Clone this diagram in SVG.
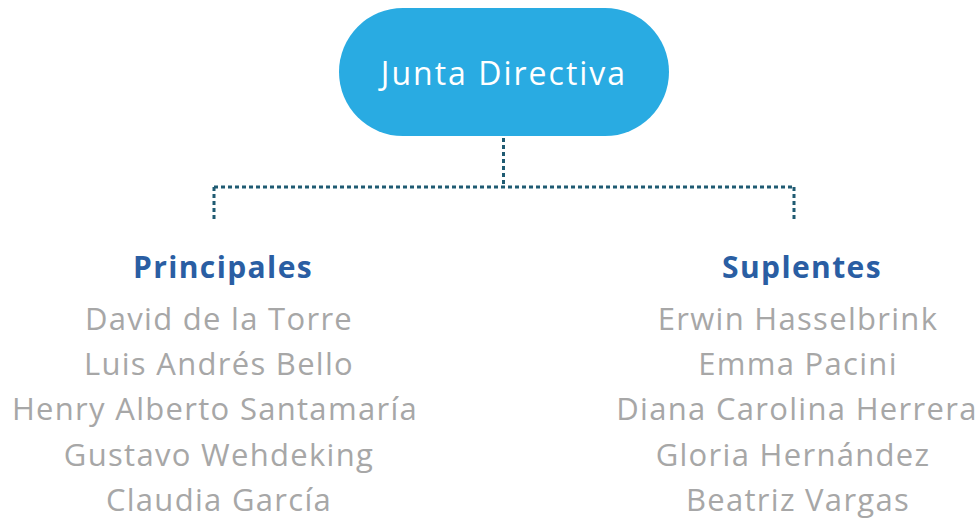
<svg xmlns="http://www.w3.org/2000/svg" width="979" height="521" viewBox="0 0 979 521">
<style>
.name{font-family:"Open Sans","Noto Sans",sans-serif;font-size:31px;letter-spacing:1.3px;fill:#a7a7a7;text-anchor:middle}
.head{font-family:"Open Sans","Noto Sans",sans-serif;font-weight:bold;font-size:30px;letter-spacing:1.4px;fill:#2a5ea3;text-anchor:middle}
.conn{fill:none;stroke:#1f5b72;stroke-width:3;stroke-dasharray:4 3}
</style>
<rect width="979" height="521" fill="#ffffff"/>
<g id="connectors">
<path class="conn" d="M503.5 131 V187"/>
<path class="conn" d="M214 187 H794"/>
<path class="conn" d="M214 187 V219"/>
<path class="conn" d="M794 187 V219"/>
</g>
<g id="junta">
<rect x="339" y="8" width="330" height="128" rx="64" fill="#29abe2"/>
<text x="504" y="85" font-family="Open Sans, Noto Sans, sans-serif" font-size="32" letter-spacing="2" fill="#ffffff" text-anchor="middle">Junta Directiva</text>
</g>
<g id="principales">
<text class="head" x="223" y="278">Principales</text>
<text class="name" x="219" y="330">David de la Torre</text>
<text class="name" x="219" y="375">Luis Andrés Bello</text>
<text class="name" x="215" y="420">Henry Alberto Santamaría</text>
<text class="name" x="219" y="466">Gustavo Wehdeking</text>
<text class="name" x="219" y="511">Claudia García</text>
</g>
<g id="suplentes">
<text class="head" x="802" y="278">Suplentes</text>
<text class="name" x="798" y="330">Erwin Hasselbrink</text>
<text class="name" x="798" y="375">Emma Pacini</text>
<text class="name" x="797" y="420">Diana Carolina Herrera</text>
<text class="name" x="793" y="466">Gloria Hernández</text>
<text class="name" x="798" y="511">Beatriz Vargas</text>
</g>
</svg>
